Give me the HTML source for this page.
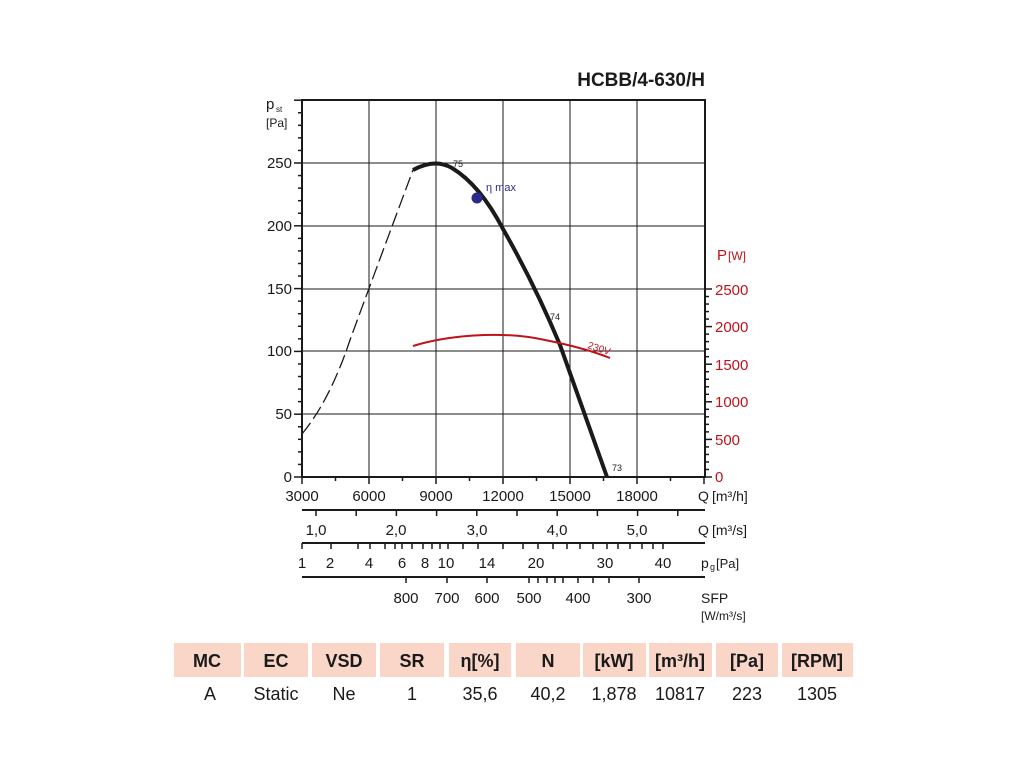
<!DOCTYPE html>
<html><head><meta charset="utf-8"><style>
body{margin:0;background:#fff;width:1024px;height:768px;overflow:hidden;font-family:"Liberation Sans",sans-serif;}
svg text{font-family:"Liberation Sans",sans-serif;}
</style></head><body>
<svg id="s" width="1024" height="768" viewBox="0 0 1024 768" xmlns="http://www.w3.org/2000/svg">
<text x="705" y="86" font-size="19" font-weight="bold" text-anchor="end" fill="#1a1a1a">HCBB/4-630/H</text>
<g stroke="#1a1a1a" stroke-width="1">
<line x1="369" y1="100" x2="369" y2="477"/><line x1="436" y1="100" x2="436" y2="477"/>
<line x1="503" y1="100" x2="503" y2="477"/><line x1="570" y1="100" x2="570" y2="477"/>
<line x1="637" y1="100" x2="637" y2="477"/>
<line x1="302" y1="163" x2="705" y2="163"/><line x1="302" y1="226" x2="705" y2="226"/>
<line x1="302" y1="289" x2="705" y2="289"/><line x1="302" y1="351" x2="705" y2="351"/>
<line x1="302" y1="414" x2="705" y2="414"/>
</g>
<rect x="302" y="100" width="403" height="377" fill="none" stroke="#1a1a1a" stroke-width="2"/>
<g id="ticks" stroke="#1a1a1a" stroke-width="1.5"></g>
<g font-size="15" fill="#1a1a1a" text-anchor="end">
<text x="292" y="168">250</text><text x="292" y="231">200</text><text x="292" y="294">150</text>
<text x="292" y="356">100</text><text x="292" y="419">50</text><text x="292" y="482">0</text>
</g>
<text x="266" y="109" font-size="15" fill="#1a1a1a">p</text><text x="276" y="112" font-size="8" fill="#1a1a1a">st</text>
<text x="266" y="127" font-size="12" fill="#1a1a1a">[Pa]</text>
<g font-size="15" fill="#c0121a">
<text x="717" y="260">P</text><text x="728" y="260" font-size="12">[W]</text>
<text x="715" y="295">2500</text><text x="715" y="332">2000</text><text x="715" y="370">1500</text>
<text x="715" y="407">1000</text><text x="715" y="445">500</text><text x="715" y="482">0</text>
</g>
<path d="M302,434 Q330,400 350,340 Q372,280 413,170" fill="none" stroke="#1a1a1a" stroke-width="1.3" stroke-dasharray="14,5"/>
<path d="M413,170 Q435,158 452,168 Q480,185 503,229 Q535,285 560,345 L607,477" fill="none" stroke="#1a1a1a" stroke-width="4"/>
<path d="M413,346 C445,336 500,330 545,340 C575,346 595,352 610,358" fill="none" stroke="#c0121a" stroke-width="2"/>
<text x="587" y="348" font-size="10" fill="#c0121a" transform="rotate(18 587 348)">230V</text>
<circle cx="477" cy="198" r="5.5" fill="#2a2a8a"/>
<text x="486" y="191" font-size="11" fill="#2a2a8a">η max</text>
<text x="453" y="167" font-size="9" fill="#1a1a1a">75</text>
<text x="550" y="320" font-size="9" fill="#1a1a1a">74</text>
<text x="612" y="471" font-size="9" fill="#1a1a1a">73</text>
<g font-size="15" fill="#1a1a1a" text-anchor="middle">
<text x="302" y="501">3000</text><text x="369" y="501">6000</text><text x="436" y="501">9000</text>
<text x="503" y="501">12000</text><text x="570" y="501">15000</text><text x="637" y="501">18000</text>
<text x="316" y="535">1,0</text><text x="396" y="535">2,0</text><text x="477" y="535">3,0</text>
<text x="557" y="535">4,0</text><text x="637" y="535">5,0</text>
<text x="302" y="568">1</text><text x="330" y="568">2</text><text x="369" y="568">4</text><text x="402" y="568">6</text>
<text x="425" y="568">8</text><text x="446" y="568">10</text><text x="487" y="568">14</text><text x="536" y="568">20</text>
<text x="605" y="568">30</text><text x="663" y="568">40</text>
<text x="406" y="603">800</text><text x="447" y="603">700</text><text x="487" y="603">600</text>
<text x="529" y="603">500</text><text x="578" y="603">400</text><text x="639" y="603">300</text>
</g>
<g font-size="14" fill="#1a1a1a">
<text x="698" y="501">Q</text><text x="712" y="501">[m³/h]</text>
<text x="698" y="535">Q</text><text x="712" y="535">[m³/s]</text>
<text x="701" y="568">p</text><text x="710" y="570" font-size="9">g</text><text x="716" y="568" font-size="13">[Pa]</text>
<text x="701" y="603">SFP</text><text x="701" y="620" font-size="12">[W/m³/s]</text>
</g>
<g stroke="#1a1a1a" stroke-width="2">
<line x1="302" y1="510" x2="705" y2="510"/><line x1="302" y1="543" x2="705" y2="543"/><line x1="302" y1="577" x2="705" y2="577"/>
</g>
<g fill="#f9d6c8">
<rect x="174" y="643" width="67" height="34"/><rect x="244" y="643" width="64" height="34"/>
<rect x="312" y="643" width="64" height="34"/><rect x="380" y="643" width="64" height="34"/>
<rect x="449" y="643" width="62" height="34"/><rect x="516" y="643" width="64" height="34"/>
<rect x="583" y="643" width="63" height="34"/><rect x="649" y="643" width="63" height="34"/>
<rect x="716" y="643" width="62" height="34"/><rect x="782" y="643" width="71" height="34"/>
</g>
<g font-size="18" font-weight="bold" fill="#1a1a1a" text-anchor="middle">
<text x="207" y="667">MC</text><text x="276" y="667">EC</text><text x="344" y="667">VSD</text>
<text x="412" y="667">SR</text><text x="480" y="667">η[%]</text><text x="548" y="667">N</text>
<text x="614" y="667">[kW]</text><text x="680" y="667">[m³/h]</text><text x="747" y="667">[Pa]</text>
<text x="817" y="667">[RPM]</text>
</g>
<g font-size="18" fill="#1a1a1a" text-anchor="middle">
<text x="210" y="700">A</text><text x="276" y="700">Static</text><text x="344" y="700">Ne</text>
<text x="412" y="700">1</text><text x="480" y="700">35,6</text><text x="548" y="700">40,2</text>
<text x="614" y="700">1,878</text><text x="680" y="700">10817</text><text x="747" y="700">223</text>
<text x="817" y="700">1305</text>
</g>
</svg>
<script>
var g=document.getElementById('ticks'),h='';
function L(a,b,c,d){h+='<line x1="'+a+'" y1="'+b+'" x2="'+c+'" y2="'+d+'"/>';}
for(var p=0;p<=300;p+=10){var y=477-p*1.256;L(p%50?298:294,y,302,y);}
for(var w=0;w<=2500;w+=100){var y=477-w*0.0752;L(705,y,w%500?709:712,y);}
for(var q=3000;q<=21000;q+=1500){var x=302+(q-3000)*67/3000;L(x,477,x,q%3000?481:484);}
for(var i=0;i<10;i++){var x=316+i*40.2;L(x,510,x,516);}
[302,331,358,370,385,395,402,412,423,432,440,448,463,478,503,523,538,553,567,580,593,607,618,630,642,653,663].forEach(function(x){L(x,543,x,549);});
[406,447,487,529,538,547,555,563,578,593,609,639].forEach(function(x){L(x,577,x,583);});
g.innerHTML=h;
</script>
</body></html>
